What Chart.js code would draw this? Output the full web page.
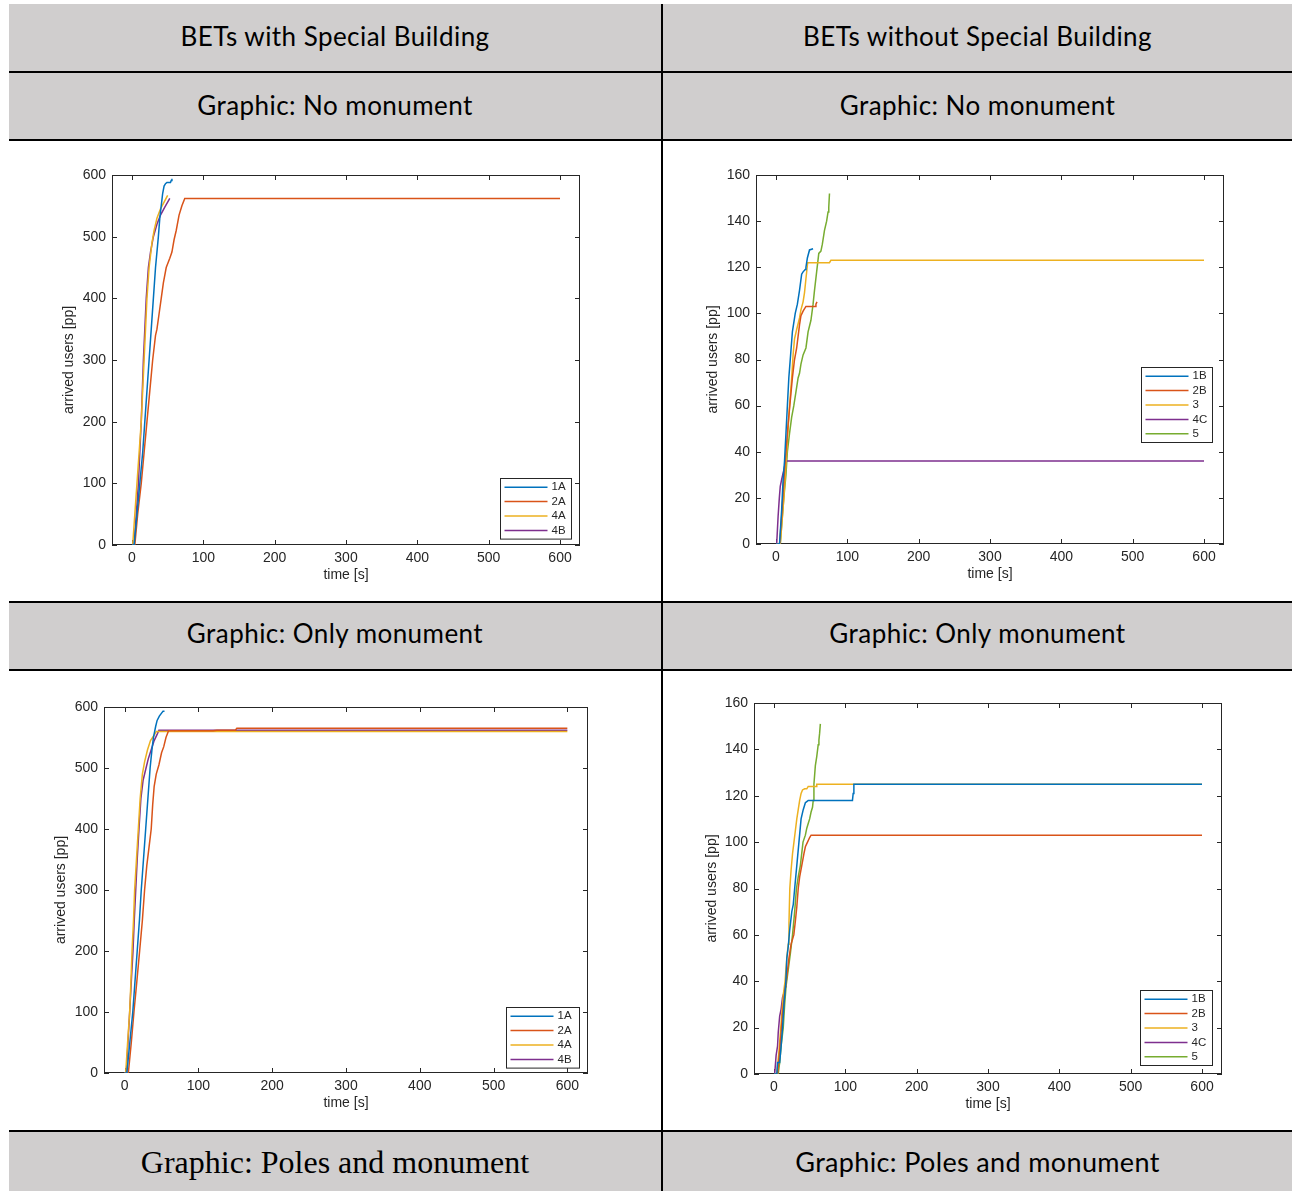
<!DOCTYPE html>
<html>
<head>
<meta charset="utf-8">
<script src="https://cdn.jsdelivr.net/npm/chart.js@4.4.1/dist/chart.umd.min.js"></script>
<style>
  body { margin: 0; background: #fff; }
  #page { position: relative; width: 1292px; height: 1191px; overflow: hidden; }
  .gray { position: absolute; background: #d0cece; }
  .hl { position: absolute; left: 9px; width: 1283px; height: 2px; background: #000; }
  .vl { position: absolute; top: 4px; left: 661px; width: 2px; height: 1187px; background: #000; }
  .cap { position: absolute; text-align: center; font-family: Lato, "Open Sans", sans-serif; font-size: 26px; letter-spacing: 0.45px; color: #000; line-height: 30px; }
  .serif { font-family: "Liberation Serif", serif; font-size: 32px; letter-spacing: 0; }
  .big { font-size: 27px; letter-spacing: 0.35px; }
  canvas { position: absolute; }
</style>
</head>
<body>
<div id="page">
  <div class="gray" style="left:9px;top:4px;width:652px;height:67px"></div>
  <div class="gray" style="left:663px;top:4px;width:629px;height:67px"></div>
  <div class="gray" style="left:9px;top:73px;width:652px;height:66px"></div>
  <div class="gray" style="left:663px;top:73px;width:629px;height:66px"></div>
  <div class="gray" style="left:9px;top:603px;width:652px;height:66px"></div>
  <div class="gray" style="left:663px;top:603px;width:629px;height:66px"></div>
  <div class="gray" style="left:9px;top:1132px;width:652px;height:59px"></div>
  <div class="gray" style="left:663px;top:1132px;width:629px;height:59px"></div>

  <div class="hl" style="top:71px"></div>
  <div class="hl" style="top:139px"></div>
  <div class="hl" style="top:601px"></div>
  <div class="hl" style="top:669px"></div>
  <div class="hl" style="top:1130px"></div>
  <div class="vl"></div>

  <div class="cap" style="left:9px;width:652px;top:21px">BETs with Special Building</div>
  <div class="cap" style="left:663px;width:629px;top:21px">BETs without Special Building</div>
  <div class="cap" style="left:9px;width:652px;top:90px">Graphic: No monument</div>
  <div class="cap" style="left:663px;width:629px;top:90px">Graphic: No monument</div>
  <div class="cap" style="left:9px;width:652px;top:618px">Graphic: Only monument</div>
  <div class="cap" style="left:663px;width:629px;top:618px">Graphic: Only monument</div>
  <div class="cap serif" style="left:9px;width:652px;top:1147px">Graphic: Poles and monument</div>
  <div class="cap big" style="left:663px;width:629px;top:1147px">Graphic: Poles and monument</div>

  <canvas id="c1" width="652" height="460" style="left:9px;top:141px"></canvas>
  <canvas id="c2" width="629" height="460" style="left:663px;top:141px"></canvas>
  <canvas id="c3" width="652" height="459" style="left:9px;top:671px"></canvas>
  <canvas id="c4" width="629" height="459" style="left:663px;top:671px"></canvas>
</div>
<script>
// tick values
const xTicks = [0, 100, 200, 300, 400, 500, 600];
const yTicksBig = [0, 100, 200, 300, 400, 500, 600];
const yTicksSmall = [0, 20, 40, 60, 80, 100, 120, 140, 160];

// No monument, with special building  [time s, arrived users]
const nmS_1A = [[0,0],[3,0],[7,50],[11,100],[15,150],[18,200],[21,250],[24,300],[27,350],[30,400],[33,450],[37,500],[39,530],[41,550],[43,570],[45,582],[47,586],[49,588],[54,588],[55,591],[56,594]];
const nmS_2A = [[0,0],[4,0],[8,50],[13,100],[17,150],[21,200],[25,250],[29,300],[33,340],[35,350],[38,375],[41,400],[44,425],[48,450],[53,465],[56,475],[59,495],[62,510],[66,535],[70,550],[74,562],[600,562]];
const nmS_4A = [[0,0],[1,0],[4,50],[7,100],[10,150],[13,200],[15,250],[17,300],[19,350],[21,400],[24,450],[28,490],[31,510],[35,530],[40,545],[45,556],[50,567]];
const nmS_4B = [[0,0],[3,0],[6,50],[9,100],[11,150],[13,200],[14.5,250],[16,300],[18,350],[20,400],[23,450],[26,475],[30,500],[35,520],[40,535],[46,548],[50,556],[53,562]];

// No monument, without special building
const nmN_1B = [[0,0],[5,0],[8,15],[10,28],[12,36],[14,48],[16,60],[18,72],[20,80],[23,92],[27,100],[30,104],[33,110],[36,117],[38,118],[41,119],[42,120],[44,124],[47,127.5],[52,128]];
const nmN_2B = [[0,0],[5,0],[8,12],[10,22],[12,32],[14,40],[17,52],[20,62],[23,72],[26,80],[29,85],[31,90],[33,95],[35,99],[38,101],[42,103],[55,103],[56,104],[57.5,105]];
const nmN_3 = [[0,0],[6,0],[9,12],[11,20],[13,30],[15,40],[17,50],[19,60],[22,72],[24,82],[26,89],[29,93],[33,98],[35,101.5],[38,105],[40,109],[42,115],[44.4,122],[75,122],[77,123],[600,123]];
const nmN_4C = [[0,0],[1,0],[3,12],[4.7,20],[6,25],[8,28],[9.4,30],[11,32],[13,35],[15,36],[600,36]];
const nmN_5 = [[0,0],[6,0],[8,8],[11,20],[14,30],[16,40],[19,48],[22,55],[25,60],[28,66],[31,72],[33,74],[35,78],[38,82],[42,85],[45,92],[49,97],[52,104],[54,110],[57,118],[60,126],[63,127],[65,130],[68,136],[71,140],[73,144],[74,146],[75,152]];

// Only monument, with special building
const omS_1A = [[0,0],[3,0],[7,50],[11,100],[14,150],[17,200],[20,250],[22.5,300],[25.5,350],[28.5,400],[31.5,450],[34.5,500],[37,530],[39,550],[42,568],[44,578],[47,585],[50,590],[52,593],[54,593]];
const omS_2A = [[0,0],[5,0],[9,50],[12.6,100],[16.5,150],[20.3,200],[24,250],[27,300],[30,340],[33,370],[36,400],[38,440],[40,470],[42.8,490],[46.4,505],[50,525],[53,535],[56,550],[59.5,561],[120,561],[125,562],[150,562],[152,565],[600,565]];
const omS_4A = [[0,0],[1.4,0],[4,50],[6.8,100],[8.5,150],[10,200],[12,250],[13.5,300],[16,350],[18.5,400],[21,450],[24,490],[27,510],[31,530],[35,545],[39,552],[43,560],[600,560]];
const omS_4B = [[0,0],[2.3,0],[4.5,50],[6.8,100],[9,150],[11.3,200],[13,250],[15,300],[17,350],[19.4,400],[22,450],[25,480],[28,495],[32,515],[36,530],[40,545],[44,555],[46.4,562],[600,562]];

// Only monument, without special building
const omN_1B = [[0,0],[4,0],[5,5],[8,5],[10,12],[12,20],[14,30],[16.7,40],[18,50],[20,55],[22,62],[25,70],[27,73],[29,80],[32,90],[35,100],[38,110],[41,114],[44,117],[46,117.5],[48,118],[110,118],[111,121],[112,125],[600,125]];
const omN_2B = [[0,0],[5,0],[8,10],[10,18],[12,26],[15,35],[18,42],[21,50],[24,56],[27.8,60],[30,66],[32,72],[34,80],[36,85],[39,90],[42,95],[44,98],[47,100],[50,102],[52,103],[600,103]];
const omN_3 = [[0,0],[4,0],[7,10],[9,18],[11,26],[13,34],[15.5,40],[18,50],[20,56],[21,65],[22.2,80],[24,88],[26,95],[28,100],[30,105],[32,110],[34,114],[36,118],[38,121],[40,122.5],[43,123],[46,123],[48,124],[59,124],[60,125],[600,125]];
const omN_4C = [[0,0],[1,0],[3,8],[5,12],[6,18],[8,25],[10,28],[12,33],[14,35],[16.7,38]];
const omN_5 = [[0,0],[6,0],[8,5],[10,12],[13,20],[15,30],[17,38],[20,45],[23,52],[26,60],[29,70],[31.5,80],[34,85],[37,90],[40.7,100],[44,103],[46,106],[48,108],[50,110],[52,113],[54,115],[55,118],[56,125],[58,133],[60,137],[62,142],[63,144],[64,147],[65,151]];

const blue = '#0072BD', red = '#D95319', yellow = '#EDB120', purple = '#7E2F8E', green = '#77AC30';
const axisColor = '#262626';
const fontName = '"Liberation Sans", Arial, sans-serif';

function line(label, pts, color) {
  return {
    label: label,
    data: pts.map(p => ({x: p[0], y: p[1]})),
    borderColor: color,
    borderWidth: 1.5,
    pointRadius: 0,
    fill: false,
    tension: 0
  };
}

// box, inward ticks on all four sides, and legend inside the axes
const matlabAxes = {
  id: 'matlabAxes',
  beforeDatasetsDraw(chart) {
    const ctx = chart.ctx, a = chart.chartArea;
    const sx = chart.scales.x, sy = chart.scales.y;
    ctx.save();
    ctx.strokeStyle = axisColor;
    ctx.lineWidth = 1;
    ctx.strokeRect(a.left + 0.5, a.top + 0.5, a.right - a.left - 1, a.bottom - a.top - 1);
    ctx.beginPath();
    sx.ticks.forEach(t => {
      const px = Math.round(sx.getPixelForValue(t.value)) + 0.5;
      ctx.moveTo(px, a.bottom); ctx.lineTo(px, a.bottom - 5);
      ctx.moveTo(px, a.top); ctx.lineTo(px, a.top + 5);
    });
    sy.ticks.forEach(t => {
      const py = Math.round(sy.getPixelForValue(t.value)) + 0.5;
      ctx.moveTo(a.left, py); ctx.lineTo(a.left + 5, py);
      ctx.moveTo(a.right, py); ctx.lineTo(a.right - 5, py);
    });
    ctx.stroke();
    ctx.restore();
  },
  afterDraw(chart, args, opts) {
    const ctx = chart.ctx, a = chart.chartArea;
    const sets = chart.data.datasets;
    const rowH = 14.4;
    const w = opts.width, h = sets.length * rowH + 3;
    const left = Math.round(a.right - opts.right - w) + 0.5;
    const top = Math.round(a.top + opts.top) + 0.5;
    ctx.save();
    ctx.fillStyle = '#fff';
    ctx.fillRect(left, top, w, h);
    ctx.strokeStyle = axisColor;
    ctx.lineWidth = 1;
    ctx.strokeRect(left, top, w, h);
    ctx.font = '11.5px ' + fontName;
    ctx.textBaseline = 'middle';
    ctx.fillStyle = axisColor;
    sets.forEach((d, i) => {
      const cy = top + 8.7 + i * rowH;
      ctx.strokeStyle = d.borderColor;
      ctx.lineWidth = 1.5;
      ctx.beginPath();
      ctx.moveTo(left + 4, cy); ctx.lineTo(left + 47, cy);
      ctx.stroke();
      ctx.fillText(d.label, left + 51, cy);
    });
    ctx.restore();
  }
};

function makeChart(id, sets, yMax, yTicks, box, legendPos) {
  return new Chart(document.getElementById(id), {
    type: 'line',
    data: { datasets: sets },
    plugins: [matlabAxes],
    options: {
      responsive: false,
      animation: false,
      events: [],
      layout: { padding: { left: box.padL, top: box.padT, right: box.padR, bottom: box.padB } },
      plugins: {
        legend: { display: false },
        tooltip: { enabled: false },
        matlabAxes: legendPos
      },
      scales: {
        x: {
          type: 'linear',
          min: -28,
          max: 628,
          afterBuildTicks: s => { s.ticks = xTicks.map(v => ({value: v})); },
          afterFit: s => { s.height = box.xh; },
          grid: { display: false, drawTicks: false },
          border: { display: false },
          ticks: { color: axisColor, padding: 5, maxRotation: 0, font: { size: 14, family: fontName } },
          title: { display: true, text: 'time [s]', color: axisColor, padding: 0, font: { size: 14, family: fontName } }
        },
        y: {
          type: 'linear',
          min: 0,
          max: yMax,
          afterBuildTicks: s => { s.ticks = yTicks.map(v => ({value: v})); },
          afterFit: s => { s.width = box.yw; },
          grid: { display: false, drawTicks: false },
          border: { display: false },
          ticks: { color: axisColor, padding: 6, font: { size: 14, family: fontName } },
          title: { display: true, text: 'arrived users [pp]', color: axisColor, padding: 0, font: { size: 14, family: fontName } }
        }
      }
    }
  });
}

makeChart('c1',
  [line('1A', nmS_1A, blue), line('2A', nmS_2A, red), line('4A', nmS_4A, yellow), line('4B', nmS_4B, purple)],
  600, yTicksBig,
  { padL: 52, yw: 51, padT: 34, padR: 81, padB: 17, xh: 39 },
  { right: 9, top: 303, width: 71 });

makeChart('c2',
  [line('1B', nmN_1B, blue), line('2B', nmN_2B, red), line('3', nmN_3, yellow), line('4C', nmN_4C, purple), line('5', nmN_5, green)],
  160, yTicksSmall,
  { padL: 42, yw: 51, padT: 34, padR: 68, padB: 18, xh: 39 },
  { right: 12, top: 192, width: 71 });

makeChart('c3',
  [line('1A', omS_1A, blue), line('2A', omS_2A, red), line('4A', omS_4A, yellow), line('4B', omS_4B, purple)],
  600, yTicksBig,
  { padL: 44, yw: 51, padT: 36, padR: 73, padB: 18, xh: 39 },
  { right: 9, top: 300, width: 73 });

makeChart('c4',
  [line('1B', omN_1B, blue), line('2B', omN_2B, red), line('3', omN_3, yellow), line('4C', omN_4C, purple), line('5', omN_5, green)],
  160, yTicksSmall,
  { padL: 41, yw: 50, padT: 32, padR: 70, padB: 17, xh: 39 },
  { right: 10, top: 287, width: 72 });
</script>
</body>
</html>
